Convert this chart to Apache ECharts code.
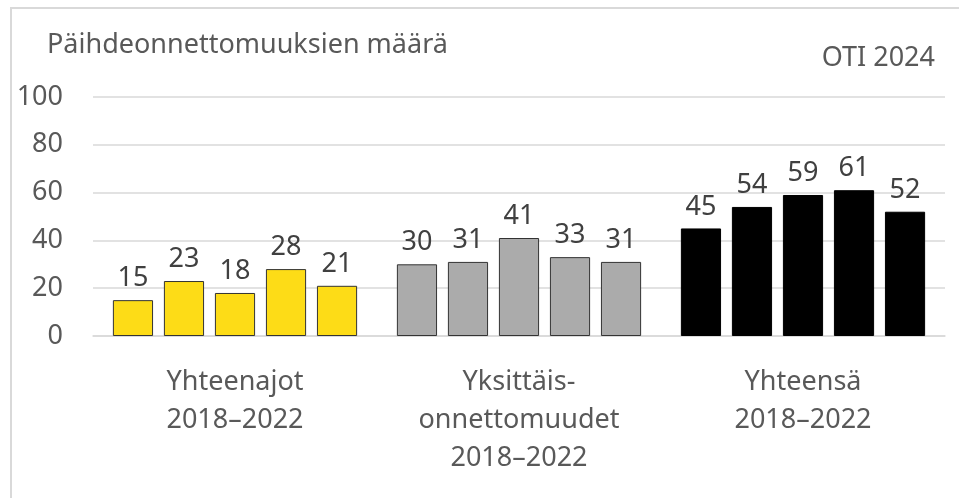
<!DOCTYPE html>
<html>
<head>
<meta charset="utf-8">
<script src="https://cdn.jsdelivr.net/npm/echarts@6/dist/echarts.min.js"></script>
<style>
html, body { margin: 0; padding: 0; background: #fff; }
#chart { width: 959px; height: 498px; }
</style>
</head>
<body>
<div id="chart"></div>
<script>
var groups = ['Yhteenajot\n2018–2022', 'Yksittäis-\nonnettomuudet\n2018–2022', 'Yhteensä\n2018–2022'];
var years = ['2018', '2019', '2020', '2021', '2022'];
var yhteenajot = [15, 23, 18, 28, 21];
var yksittais = [30, 31, 41, 33, 31];
var yhteensa = [45, 54, 59, 61, 52];
var yTicks = [0, 20, 40, 60, 80, 100];

var groupColors = ['#FDDC17', '#ABABAB', '#000000'];
var font = 'Noto Sans';
var fs = 27;

var chart = echarts.init(document.getElementById('chart'));

var series = years.map(function (yr, i) {
	var vals = [yhteenajot[i], yksittais[i], yhteensa[i]];
	return {
		name: yr,
		type: 'bar',
		barGap: '27%',
		barCategoryGap: '14%',
		data: vals.map(function (v, g) {
			return {
				value: v,
				itemStyle: {
					color: groupColors[g],
					borderColor: g === 2 ? '#000' : '#333',
					borderWidth: 1
				}
			};
		}),
		label: {
			show: true,
			position: 'top',
			distance: 8,
			color: '#404040',
			fontFamily: font,
			fontSize: fs
		},
		animation: false
	};
});

chart.setOption({
	backgroundColor: '#fff',
	textStyle: { fontFamily: font },
	grid: { left: 93, right: 14, top: 97, bottom: 162, containLabel: false },
	graphic: [{
		type: 'rect',
		shape: { x: 11, y: 8, width: 960, height: 500 },
		style: { fill: 'none', stroke: '#D9D9D9', lineWidth: 2 }
	}, {
		type: 'text',
		x: 47, y: 45,
		style: { text: 'Päihdeonnettomuuksien määrä', font: fs + 'px "Noto Sans"', fill: '#595959', textAlign: 'left', textVerticalAlign: 'middle' }
	}, {
		type: 'text',
		x: 935, y: 58,
		style: { text: 'OTI 2024', font: fs + 'px "Noto Sans"', fill: '#595959', textAlign: 'right', textVerticalAlign: 'middle' }
	}],
	xAxis: {
		type: 'category',
		data: groups,
		axisLine: { show: true, lineStyle: { color: '#D9D9D9', width: 1.5 } },
		axisTick: { show: false },
		axisLabel: {
			color: '#595959',
			fontFamily: font,
			fontSize: fs,
			lineHeight: 38,
			margin: 27,
			interval: 0
		}
	},
	yAxis: {
		type: 'value',
		min: yTicks[0],
		max: yTicks[yTicks.length - 1],
		interval: 20,
		axisLine: { show: false },
		axisTick: { show: false },
		axisLabel: { color: '#595959', fontFamily: font, fontSize: fs, margin: 30 },
		splitLine: { lineStyle: { color: '#D9D9D9', width: 1.5 } }
	},
	series: series
});
</script>
</body>
</html>
